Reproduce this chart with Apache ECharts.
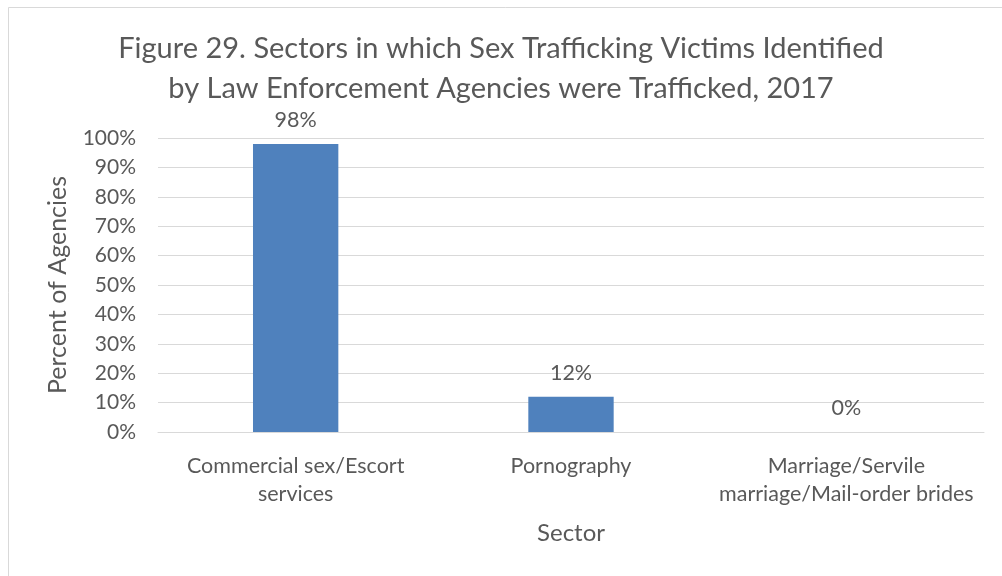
<!DOCTYPE html>
<html><head><meta charset="utf-8">
<script src="https://cdn.jsdelivr.net/npm/echarts@6/dist/echarts.min.js"></script>
<style>html,body{margin:0;padding:0;background:#fff}#c{width:1002px;height:576px}</style>
</head><body><div id="c"></div>
<script>
const titleText = "Figure 29. Sectors in which Sex Trafficking Victims Identified\nby Law Enforcement Agencies were Trafficked, 2017";
const categories = ["Commercial sex/Escort\nservices", "Pornography", "Marriage/Servile\nmarriage/Mail-order brides"];
const values = [98, 12, 0];
const yTicks = [0, 10, 20, 30, 40, 50, 60, 70, 80, 90, 100];
const yAxisName = "Percent of Agencies";
const xAxisName = "Sector";

const font = "Lato, 'Open Sans', sans-serif";
const textColor = "#595959";
const chart = echarts.init(document.getElementById('c'), null, {renderer: 'canvas'});
chart.setOption({
  animation: false,
  backgroundColor: '#fff',
  graphic: [{type: 'rect', shape: {x: 8.5, y: 7.5, width: 1100, height: 700}, style: {fill: 'none', stroke: '#d9d9d9', lineWidth: 1}, silent: true}],
  title: {
    text: titleText, left: 'center', top: 24,
    textStyle: {fontFamily: font, fontSize: 29, fontWeight: 'normal', color: textColor, lineHeight: 40}
  },
  grid: {left: 158, right: 18, top: 138, bottom: 144, containLabel: false},
  xAxis: {
    type: 'category', data: categories,
    name: xAxisName, nameLocation: 'middle', nameGap: 89,
    nameTextStyle: {fontFamily: font, fontSize: 24, color: textColor},
    axisLine: {show: true, lineStyle: {color: '#d9d9d9', width: 1}},
    axisTick: {show: false},
    axisLabel: {fontFamily: font, fontSize: 21.5, color: textColor, margin: 20, lineHeight: 28, interval: 0}
  },
  yAxis: {
    type: 'value', min: 0, max: 100, interval: 10,
    name: yAxisName, nameLocation: 'middle', nameGap: 88, nameRotate: 90,
    nameTextStyle: {fontFamily: font, fontSize: 25, color: textColor},
    axisLine: {show: false}, axisTick: {show: false},
    axisLabel: {fontFamily: font, fontSize: 21, color: textColor, margin: 22, formatter: v => yTicks.includes(v) ? v + '%' : ''},
    splitLine: {lineStyle: {color: '#d9d9d9', width: 1}}
  },
  series: [{
    type: 'bar', data: values, barWidth: '31%',
    itemStyle: {color: '#4F81BD'},
    label: {show: true, position: 'top', distance: 13, formatter: p => p.value + '%', fontFamily: font, fontSize: 21.5, color: textColor}
  }]
});
</script></body></html>
